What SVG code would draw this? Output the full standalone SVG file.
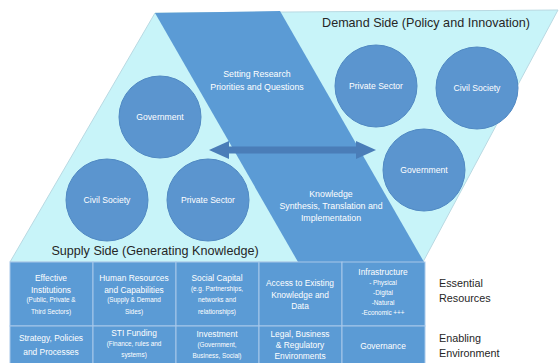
<svg xmlns="http://www.w3.org/2000/svg" width="559" height="363" viewBox="0 0 559 363">
<defs>
<style>
.t{font-family:"Liberation Sans",Arial,sans-serif;text-anchor:middle;fill:#ffffff}
.c{fill:#5b95cf;stroke:#5089c3;stroke-width:1}
.cl{font-size:8.6px}
.bl{font-size:8.8px}
.gm{font-size:8.4px}
.gs{font-size:6.4px}
.cell{fill:#5b9bd5;stroke:#a7c8ea;stroke-width:1}
.hd{font-family:"Liberation Sans",Arial,sans-serif;fill:#262626;font-size:12.6px}
.rl{font-family:"Liberation Sans",Arial,sans-serif;fill:#262626;font-size:10.8px}
</style>
<marker id="ah" viewBox="0 0 20 18" refX="1" refY="9" markerWidth="20" markerHeight="18" markerUnits="userSpaceOnUse" orient="auto-start-reverse">
<path d="M0,0 L20,9 L0,18 Z" fill="#4a7db8"/>
</marker>
</defs>
<rect width="559" height="363" fill="#ffffff"/>
<g id="supply-demand-field">
<polygon points="155,13 558,10 423,262 10,262" fill="#c8f4f9" stroke="#b9d9e2" stroke-width="1"/>
<polygon points="155,13 280,11 424,262 298,262" fill="#5b9bd5"/>
</g>
<g id="band-labels">
<g id="setting-research">
<text class="t bl" x="257" y="77">Setting Research</text>
<text class="t bl" x="257" y="90">Priorities and Questions</text>
</g>
<g id="knowledge-synthesis">
<text class="t bl" x="331" y="197">Knowledge</text>
<text class="t bl" x="331" y="209">Synthesis, Translation and</text>
<text class="t bl" x="331" y="221">Implementation</text>
</g>
</g>
<g id="headers">
<text id="demand-side" class="hd" x="426" y="27" text-anchor="middle">Demand Side (Policy and Innovation)</text>
<text id="supply-side" class="hd" x="155" y="255" text-anchor="middle">Supply Side (Generating Knowledge)</text>
</g>
<g id="gov-supply"><circle class="c" cx="160" cy="117" r="41"/><text class="t cl" x="160" y="120">Government</text></g>
<g id="civil-supply"><circle class="c" cx="107" cy="200" r="41"/><text class="t cl" x="107" y="203">Civil Society</text></g>
<g id="private-supply"><circle class="c" cx="208" cy="200" r="41"/><text class="t cl" x="208" y="203">Private Sector</text></g>
<g id="private-demand"><circle class="c" cx="376" cy="86" r="41"/><text class="t cl" x="376" y="89">Private Sector</text></g>
<g id="civil-demand"><circle class="c" cx="477" cy="88" r="41"/><text class="t cl" x="477" y="91">Civil Society</text></g>
<g id="gov-demand"><circle class="c" cx="424" cy="170" r="41"/><text class="t cl" x="424" y="173">Government</text></g>
<g id="connectors">
<line x1="228" y1="150" x2="357" y2="150" stroke="#4a7db8" stroke-width="7" marker-start="url(#ah)" marker-end="url(#ah)"/>
</g>
<g id="grid">
<g id="cell-effective"><rect class="cell" x="10" y="262" width="83" height="64"/>
<text class="t gm" x="51" y="281">Effective</text><text class="t gm" x="51" y="293">Institutions</text>
<text class="t gs" x="51" y="302">(Public, Private &amp;</text><text class="t gs" x="51" y="314">Third Sectors)</text></g>
<g id="cell-human"><rect class="cell" x="93" y="262" width="83" height="64"/>
<text class="t gm" x="134" y="281">Human Resources</text><text class="t gm" x="134" y="293">and Capabilities</text>
<text class="t gs" x="134" y="302">(Supply &amp; Demand</text><text class="t gs" x="134" y="314">Sides)</text></g>
<g id="cell-social"><rect class="cell" x="176" y="262" width="83" height="64"/>
<text class="t gm" x="217" y="281">Social Capital</text>
<text class="t gs" x="217" y="291">(e.g. Partnerships,</text><text class="t gs" x="217" y="302">networks and</text><text class="t gs" x="217" y="314">relationships)</text></g>
<g id="cell-access"><rect class="cell" x="259" y="262" width="83" height="64"/>
<text class="t gm" x="300" y="286">Access to Existing</text><text class="t gm" x="300" y="298">Knowledge and</text><text class="t gm" x="300" y="309">Data</text></g>
<g id="cell-infra"><rect class="cell" x="342" y="262" width="83" height="64"/>
<text class="t gm" x="383" y="275">Infrastructure</text>
<text class="t gs" x="383" y="285">- Physical</text><text class="t gs" x="383" y="295">-Digital</text><text class="t gs" x="383" y="305">-Natural</text><text class="t gs" x="383" y="315">-Economic +++</text></g>
<g id="cell-strategy"><rect class="cell" x="10" y="326" width="83" height="40"/>
<text class="t gm" x="51" y="341">Strategy, Policies</text><text class="t gm" x="51" y="355">and Processes</text></g>
<g id="cell-sti"><rect class="cell" x="93" y="326" width="83" height="40"/>
<text class="t gm" x="134" y="336">STI Funding</text>
<text class="t gs" x="134" y="346">(Finance, rules and</text><text class="t gs" x="134" y="357">systems)</text></g>
<g id="cell-investment"><rect class="cell" x="176" y="326" width="83" height="40"/>
<text class="t gm" x="217" y="337">Investment</text>
<text class="t gs" x="217" y="347">(Government,</text><text class="t gs" x="217" y="358">Business, Social)</text></g>
<g id="cell-legal"><rect class="cell" x="259" y="326" width="83" height="40"/>
<text class="t gm" x="300" y="337">Legal, Business</text><text class="t gm" x="300" y="348">&amp; Regulatory</text><text class="t gm" x="300" y="359">Environments</text></g>
<g id="cell-governance"><rect class="cell" x="342" y="326" width="83" height="40"/>
<text class="t gm" x="383" y="349">Governance</text></g>
</g>
<g id="row-labels">
<g id="essential"><text class="rl" x="439" y="287">Essential</text><text class="rl" x="439" y="302">Resources</text></g>
<g id="enabling"><text class="rl" x="439" y="342">Enabling</text><text class="rl" x="439" y="357">Environment</text></g>
</g>
</svg>
